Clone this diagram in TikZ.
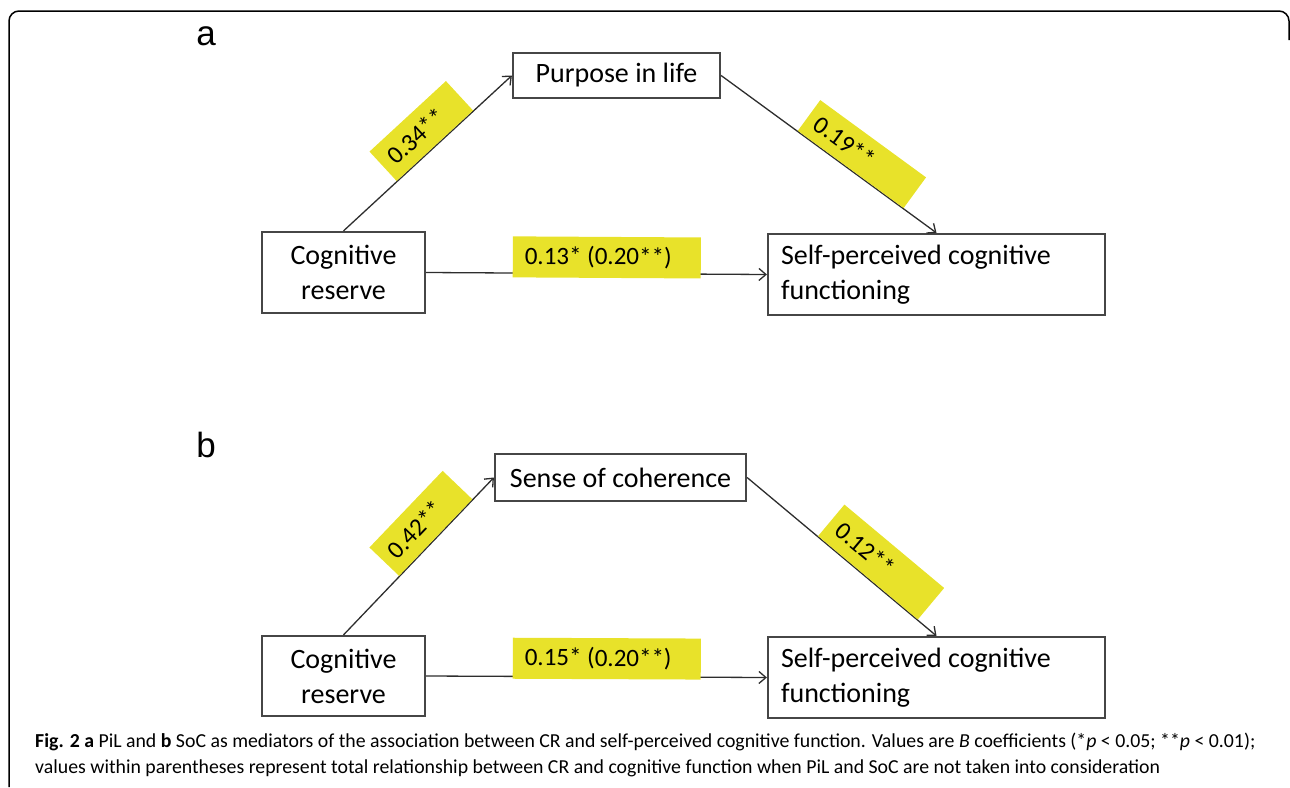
\documentclass[tikz,border=0pt]{standalone}
\usepackage{fontspec}
\setmainfont{Carlito}
\newfontfamily\arialf{Liberation Sans}
\usetikzlibrary{arrows.meta}
\definecolor{hl}{RGB}{232,226,42}
\definecolor{bx}{RGB}{70,70,70}
\definecolor{ln}{RGB}{45,45,45}
\begin{document}
\begin{tikzpicture}[x=1pt,y=-1pt,
  vbox/.style={draw=bx, line width=2.2pt, inner sep=0pt, font=\fontsize{28}{35}\selectfont},
  conn/.style={draw=ln, line width=1.3pt, -{Straight Barb[length=7pt,width=12pt,line width=1.3pt]}},
  coef/.style={fill=hl, font=\fontsize{25}{28}\selectfont, inner ysep=0pt, align=flush left, anchor=south, sloped},
  panel/.style={font=\arialf\fontsize{35}{40}\selectfont, anchor=base, inner sep=0pt}]
\useasboundingbox (0,0) rectangle (1290,787);
\draw[line width=1.5pt, rounded corners=10pt] (9,787) -- (9,11) -- (1289,11) -- (1289,40);

% panel a
\node[panel] (la) at (206,45) {a};
\node[vbox, minimum width=207pt, minimum height=45pt] (pil) at (616.5,75.5) {Purpose in life};
\node[vbox, minimum width=163pt, minimum height=81pt, align=center] (cra) at (343.5,272.5) {Cognitive\\reserve};
\node[vbox, minimum width=337pt, minimum height=81pt, text width=311pt, align=flush left] (spa) at (936.5,274.5) {Self-perceived cognitive\\functioning};
\draw[conn] (cra.north) -- node[coef, pos=0.545, minimum height=40pt, text width=84pt, inner xsep=10pt] (ca1) {0.34**} (pil.west);
\draw[conn] (pil.east) -- node[coef, pos=0.60, minimum height=38pt, text width=111pt, inner xsep=10pt] (ca2) {0.19**} (spa.north);
\draw[conn] (cra.east) -- node[coef, pos=0.53, yshift=-5pt, minimum height=41pt, text width=164pt, inner xsep=12pt] (ca3) {0.13* (0.20**)} (spa.west);

% panel b
\node[panel] (lb) at (206,457) {b};
\node[vbox, minimum width=251pt, minimum height=47pt] (soc) at (620.5,477.5) {Sense of coherence};
\node[vbox, minimum width=163pt, minimum height=80pt, align=center] (crb) at (343.5,676) {Cognitive\\reserve};
\node[vbox, minimum width=337pt, minimum height=81pt, text width=311pt, align=flush left] (spb) at (936.5,677.5) {Self-perceived cognitive\\functioning};
\draw[conn] (crb.north) -- node[coef, pos=0.616, minimum height=41pt, text width=86pt, inner xsep=10pt] (cb1) {0.42**} (soc.west);
\draw[conn] (soc.east) -- node[coef, pos=0.636, minimum height=41pt, text width=110pt, inner xsep=10pt] (cb2) {0.12**} (spb.north);
\draw[conn] (crb.east) -- node[coef, pos=0.53, yshift=-3pt, minimum height=41pt, text width=164pt, inner xsep=12pt] (cb3) {0.15* (0.20**)} (spb.west);

% caption
\node[anchor=base west, inner sep=0pt, font=\fontsize{19.8}{26}\selectfont, align=left] (cap) at (35,773)
 {\textbf{Fig. 2 a} PiL and \textbf{b} SoC as mediators of the association between CR and self-perceived cognitive function. Values are \textit{B} coefficients (*\textit{p} < 0.05; **\textit{p} < 0.01);\\
  values within parentheses represent total relationship between CR and cognitive function when PiL and SoC are not taken into consideration};
\end{tikzpicture}
\end{document}
